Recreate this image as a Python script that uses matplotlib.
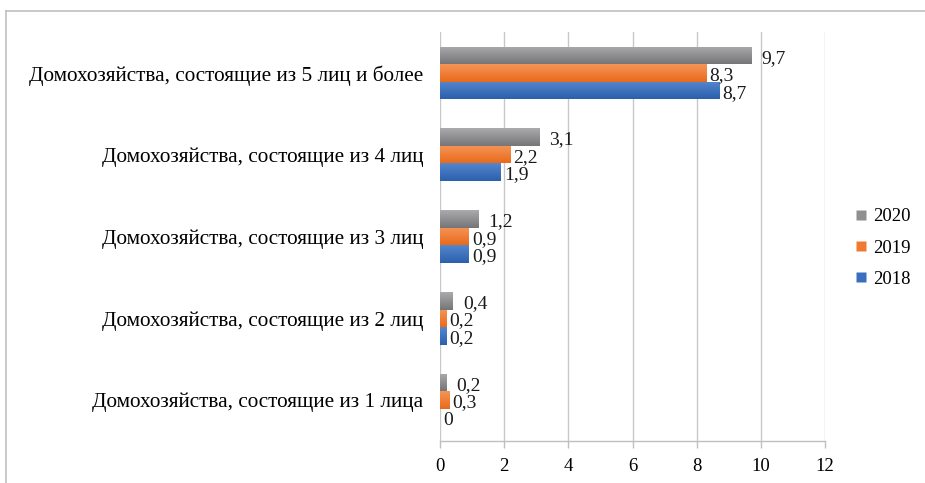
#!/usr/bin/env python3
import matplotlib

matplotlib.use("Agg")
import matplotlib.pyplot as plt
import numpy as np
from matplotlib.colors import LinearSegmentedColormap
from matplotlib.lines import Line2D

OUTPUT_PATH = "out.png"

CATEGORIES = [
    "Домохозяйства, состоящие из 1 лица",
    "Домохозяйства, состоящие из 2 лиц",
    "Домохозяйства, состоящие из 3 лиц",
    "Домохозяйства, состоящие из 4 лиц",
    "Домохозяйства, состоящие из 5 лиц и более",
]
YEARS = ["2018", "2019", "2020"]
VALUES_2018 = [0.0, 0.2, 0.9, 1.9, 8.7]
VALUES_2019 = [0.3, 0.2, 0.9, 2.2, 8.3]
VALUES_2020 = [0.2, 0.4, 1.2, 3.1, 9.7]
X_TICKS = [0, 2, 4, 6, 8, 10, 12]

# (top colour, bottom colour, legend colour)
GRADIENTS = {
    "2018": ("#5486cc", "#2b60ad", "#3b6fbd"),
    "2019": ("#f59556", "#ea6a1c", "#ef7a30"),
    "2020": ("#ababae", "#757578", "#909093"),
}
LABEL_OFFSET_PX = {"2018": 3, "2019": 3, "2020": 10}

BAR_H = 0.214
FONT = "Liberation Serif"


def fmt(v: float) -> str:
    return f"{v:g}".replace(".", ",")


def draw_gradient_bars(ax, y, values, year):
    top, bottom, _ = GRADIENTS[year]
    cmap = LinearSegmentedColormap.from_list(year, [bottom, top])
    grad = np.linspace(0, 1, 64).reshape(-1, 1)
    bars = ax.barh(y, values, height=BAR_H, color="none", edgecolor="none")
    for patch in bars:
        x0, y0 = patch.get_x(), patch.get_y()
        w, h = patch.get_width(), patch.get_height()
        if w <= 0:
            continue
        im = ax.imshow(
            grad,
            cmap=cmap,
            aspect="auto",
            origin="lower",
            extent=(x0, x0 + w, y0, y0 + h),
            zorder=2,
        )
        im.set_clip_path(patch)
    return bars


def main() -> None:
    plt.rcParams["font.family"] = [FONT, "DejaVu Serif"]
    fig = plt.figure(figsize=(9.25, 4.83), dpi=100)
    ax = fig.add_axes([440 / 925, 1 - 441 / 483, 385 / 925, 409 / 483])

    y = np.arange(len(CATEGORIES))
    series = {"2018": VALUES_2018, "2019": VALUES_2019, "2020": VALUES_2020}
    shifts = {"2018": -BAR_H, "2019": 0.0, "2020": BAR_H}

    for year in YEARS:
        vals = series[year]
        ys = y + shifts[year]
        draw_gradient_bars(ax, ys, vals, year)
        for yi, v in zip(ys, vals):
            ax.annotate(
                fmt(v),
                xy=(v, yi),
                xytext=(LABEL_OFFSET_PX[year] * 0.72, -2),
                textcoords="offset points",
                va="center",
                ha="left",
                fontsize=14,
                color="#1a1a1a",
                zorder=4,
            )

    ax.set_xlim(0, 12)
    ax.set_ylim(-0.5, len(CATEGORIES) - 0.5)
    ax.set_xticks(X_TICKS)
    ax.set_xticklabels([str(t) for t in X_TICKS], fontsize=13.5)
    ax.set_yticks(y)
    ax.set_yticklabels(CATEGORIES, fontsize=15.3)
    ax.tick_params(axis="y", length=0, pad=12)
    ax.tick_params(axis="x", length=5, width=1, color="#bfbfbf", pad=7)

    ax.grid(axis="x", color="#c8c8c8", linewidth=1.0, zorder=0)
    ax.set_axisbelow(True)
    for side in ("top", "right", "left"):
        ax.spines[side].set_visible(False)
    ax.spines["bottom"].set_color("#bfbfbf")
    ax.spines["bottom"].set_linewidth(1.0)

    handles = [
        Line2D([], [], marker="s", linestyle="none", markersize=6.5,
               markerfacecolor=GRADIENTS[yr][2], markeredgecolor="none")
        for yr in ("2020", "2019", "2018")
    ]
    fig.legend(
        handles,
        ["2020", "2019", "2018"],
        loc="center left",
        bbox_to_anchor=(853 / 925, 1 - 248 / 483),
        frameon=False,
        fontsize=13.5,
        handletextpad=0.2,
        labelspacing=0.75,
        handlelength=0.9,
        borderpad=0,
        borderaxespad=0,
    )

    # outer chart frame (only top and left edges visible)
    fig.add_artist(Line2D([6 / 925, 1.0], [1 - 11 / 483] * 2, color="#c0c0c0", linewidth=1.2))
    fig.add_artist(Line2D([6 / 925] * 2, [0.0, 1 - 11 / 483], color="#c0c0c0", linewidth=1.2))

    fig.savefig(OUTPUT_PATH, dpi=100)
    plt.close(fig)


if __name__ == "__main__":
    main()
